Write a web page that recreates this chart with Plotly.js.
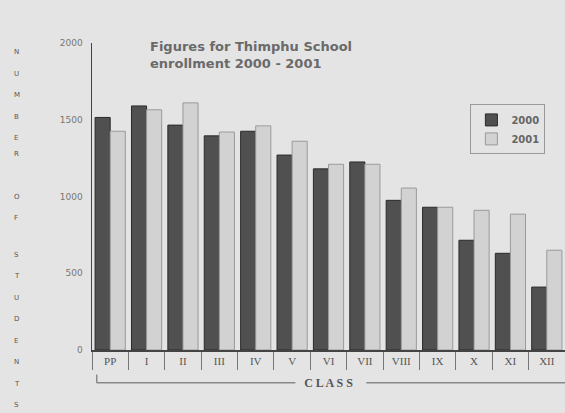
<!DOCTYPE html>
<html>
<head>
<meta charset="utf-8">
<script src="https://cdn.plot.ly/plotly-3.0.1.min.js"></script>
<style>html,body{margin:0;padding:0;background:#e4e4e4;}#chart{width:565px;height:413px;}</style>
</head>
<body>
<div id="chart"></div>
<script>
const classes = ["PP","I","II","III","IV","V","VI","VII","VIII","IX","X","XI","XII"];
const enrol2000 = [1515,1590,1465,1395,1425,1270,1180,1225,975,930,715,630,410];
const enrol2001 = [1425,1565,1610,1420,1460,1360,1210,1210,1055,930,910,885,650];
const yTickVals = [0,500,1000,1500,2000];
const yTitle = "NUMBER OF STUDENTS";

const traces = [
  {type:"bar", name:"2000", x:classes, y:enrol2000,
   marker:{color:"#505050", line:{color:"#2a2a2a", width:1}}},
  {type:"bar", name:"2001", x:classes, y:enrol2001,
   marker:{color:"#d2d2d2", line:{color:"#9a9a9a", width:1}}}
];

const letters = yTitle.split("");
const annotations = letters.map((ch, i) => ({
  text: ch, xref:"paper", yref:"paper", x:-0.17, y: 0.99 - i*0.07,
  showarrow:false, font:{family:"DejaVu Sans", size:7, color:"#555"}
}));

const layout = {
  width:565, height:413,
  margin:{l:92, r:0, t:43, b:63, pad:0},
  paper_bgcolor:"#e4e4e4", plot_bgcolor:"#e4e4e4",
  barmode:"group", bargap:0.17, bargroupgap:0,
  title:{text:"Figures for Thimphu School<br>enrollment 2000 - 2001",
         x:150/565, xanchor:"left", xref:"container",
         y:1-51/413, yanchor:"top", yref:"container",
         font:{family:"DejaVu Sans", size:13, color:"#6a6a6a", weight:"bold"}},
  xaxis:{type:"category", showgrid:false, zeroline:false,
         showline:true, linecolor:"#444", linewidth:1.5,
         ticks:"outside", tickson:"boundaries", ticklen:18, tickcolor:"#777", tickwidth:1,
         tickfont:{family:"Liberation Serif", size:11, color:"#555"},
         title:{text:"C L A S S", standoff:13,
                font:{family:"Liberation Serif", size:12, color:"#555", weight:"bold"}}},
  yaxis:{range:[0,2000], tickvals:yTickVals, showgrid:false, zeroline:false,
         showline:true, linecolor:"#444", linewidth:1.5,
         ticks:"", tickfont:{family:"DejaVu Sans", size:9, color:"#777"}, ticklabelstandoff:6},
  legend:{x:0.8, y:0.8, xanchor:"left", yanchor:"top",
          bgcolor:"#e4e4e4", bordercolor:"#999", borderwidth:1,
          font:{family:"DejaVu Sans", size:10, color:"#666", weight:"bold"}},
  shapes:[
    {type:"line", xref:"paper", yref:"paper", x0:0.01, x1:0.43, y0:-0.107, y1:-0.107, line:{color:"#888", width:1.5}},
    {type:"line", xref:"paper", yref:"paper", x0:0.01, x1:0.01, y0:-0.107, y1:-0.08, line:{color:"#888", width:1.5}},
    {type:"line", xref:"paper", yref:"paper", x0:0.58, x1:1.0, y0:-0.107, y1:-0.107, line:{color:"#888", width:1.5}}
  ],
  annotations: annotations,
  showlegend:true
};
Plotly.newPlot("chart", traces, layout, {displayModeBar:false, staticPlot:true});
</script>
</body>
</html>
